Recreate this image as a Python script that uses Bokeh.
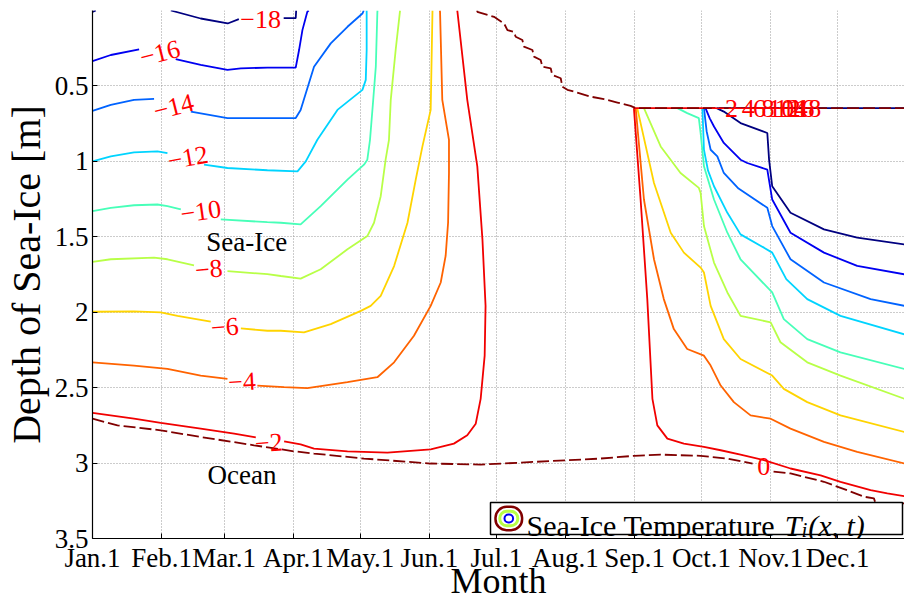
import numpy as np
from bokeh.plotting import figure
from bokeh.models import (Range1d, FixedTicker, NumeralTickFormatter, BoxAnnotation,
                          Label, ColumnDataSource)
from bokeh.core.properties import value
from bokeh.embed import file_html
from bokeh.resources import INLINE

nan = float("nan")

# ---------------- axes ----------------
month_days = [0, 31, 59, 90, 120, 151, 181, 212, 243, 273, 304, 334]
month_labels = ["Jan.1", "Feb.1", "Mar.1", "Apr.1", "May.1", "Jun.1",
                "Jul.1", "Aug.1", "Sep.1", "Oct.1", "Nov.1", "Dec.1"]
depth_ticks = [0.5, 1.0, 1.5, 2.0, 2.5, 3.0, 3.5]

# ---------------- contour lines (day of year, depth in m); nan = break ----------------
t_m18_day = [0, 1.5, nan, 35.1, 48.5, 60.6, 65.6, nan, 85.7, 90.2, 91.1, 91.3, nan,
             279.8, 283.0, 290.5, 302.5, 303.3, 304.7, 312.9, 327.9, 342.8, 364.0, nan, 279.8, 364.0]
t_m18_depth = [0.009, 0.0, nan, 0.0, 0.053, 0.086, 0.057, nan, 0.051, 0.051, 0.051, 0.0, nan,
               0.647, 0.670, 0.746, 0.812, 0.990, 1.165, 1.341, 1.451, 1.506, 1.551, nan, 0.647, 0.647]

t_m16_day = [0, 8.2, 20.9, nan, 37.3, 48.5, 60.5, 66.5, 78.4, 91.1, 92.6, 94.1, 96.3, 96.9, nan,
             274.8, 276.7, 278.6, 283.0, 290.5, 293.5, 302.5, 304.7, 312.9, 327.9, 342.8, 364.0]
t_m16_depth = [0.335, 0.295, 0.258, nan, 0.322, 0.361, 0.394, 0.383, 0.379, 0.379, 0.262, 0.130, 0.009, 0.0, nan,
               0.647, 0.715, 0.769, 0.878, 0.989, 1.011, 1.055, 1.253, 1.473, 1.605, 1.693, 1.749]

t_m14_day = [0, 8.2, 18.6, 27.6, nan, 44.1, 60.5, 78.4, 91.1, 93.3, 99.3, 106.8, 114.3, 121.0, 121.6, nan,
             274.1, 275.3, 277.1, 280.1, 283.0, 289.6, 302.5, 304.7, 312.9, 327.9, 348.8, 364.0]
t_m14_depth = [0.665, 0.625, 0.592, 0.586, nan, 0.670, 0.713, 0.713, 0.713, 0.659, 0.373, 0.218, 0.108, 0.020, 0.0, nan,
               0.647, 0.800, 0.923, 0.967, 1.077, 1.180, 1.308, 1.429, 1.649, 1.803, 1.913, 1.958]

t_m12_day = [0, 8.2, 18.6, 29.1, 33.6, nan, 50.0, 60.5, 78.4, 91.9, 95.6, 100.8, 109.8, 121.0, 122.5, 122.9, 122.9, nan,
             273.4, 274.1, 275.9, 278.6, 284.6, 290.5, 301.0, 304.7, 311.0, 320.4, 335.3, 364.0]
t_m12_depth = [1.000, 0.967, 0.941, 0.934, 0.945, nan, 1.022, 1.044, 1.059, 1.066, 1.000, 0.857, 0.659, 0.526, 0.460, 0.262, 0.0, nan,
               0.647, 0.923, 1.060, 1.165, 1.341, 1.484, 1.572, 1.605, 1.781, 1.913, 2.024, 2.147]

t_m10_day = [0, 8.2, 18.6, 29.1, 33.6, 39.6, nan, 57.5, 78.4, 84.4, 93.3, 102.3, 114.3, 121.7, 123.2, 124.4, 125.8, 127.0, 127.7, 127.8, nan,
             262.2, 266.6, 271.8, 272.6, 274.1, 278.6, 284.6, 290.5, 304.7, 309.9, 320.4, 335.3, 364.0]
t_m10_depth = [1.330, 1.308, 1.291, 1.286, 1.297, 1.319, nan, 1.385, 1.403, 1.407, 1.418, 1.297, 1.121, 1.022, 0.989, 0.857, 0.600, 0.373, 0.009, 0.0, nan,
               0.647, 0.680, 0.713, 0.812, 1.033, 1.253, 1.473, 1.649, 1.869, 2.046, 2.178, 2.266, 2.376]

t_m8_day = [0, 8.2, 27.6, 33.6, 45.5, nan, 60.5, 78.4, 84.4, 93.3, 102.3, 114.3, 123.2, 126.2, 129.2, 131.4, 132.9, 133.7, 135.9, 137.8, 137.9, nan,
            247.2, 254.7, 263.6, 271.8, 272.6, 274.1, 278.6, 284.6, 290.5, 304.0, 308.4, 320.4, 335.3, 364.0]
t_m8_depth = [1.667, 1.649, 1.638, 1.649, 1.689, nan, 1.727, 1.748, 1.760, 1.777, 1.715, 1.583, 1.495, 1.407, 1.231, 0.989, 0.857, 0.592, 0.262, 0.009, 0.0, nan,
              0.647, 0.901, 1.077, 1.176, 1.209, 1.429, 1.671, 1.869, 2.024, 2.067, 2.199, 2.332, 2.420, 2.574]

t_m6_day = [0, 18.6, 30.6, 38.1, 53.0, nan, 66.5, 78.4, 84.4, 94.8, 106.8, 120.3, 124.7, 129.2, 135.2, 141.2, 144.9, 147.9, 151.6, 152.4, 152.4, nan,
            244.2, 251.7, 259.2, 265.1, 272.6, 274.1, 277.1, 283.0, 290.5, 304.7, 309.9, 320.4, 335.3, 364.0]
t_m6_depth = [1.997, 1.995, 2.001, 2.024, 2.063, nan, 2.107, 2.123, 2.123, 2.133, 2.079, 1.991, 1.958, 1.892, 1.694, 1.407, 1.121, 0.901, 0.659, 0.009, 0.0, nan,
              0.647, 1.143, 1.473, 1.605, 1.704, 1.737, 1.958, 2.178, 2.310, 2.420, 2.508, 2.596, 2.684, 2.794]

t_m4_day = [0, 18.6, 33.6, 48.5, 60.5, nan, 73.9, 85.9, 96.3, 114.3, 127.7, 135.2, 144.1, 151.6, 156.1, 158.3, 159.4, 159.8, 159.8, 156.8, 155.8, 155.7, nan,
            243.5, 247.2, 251.7, 256.1, 260.6, 266.6, 274.1, 277.1, 281.6, 287.5, 295.0, 304.0, 312.9, 327.9, 342.8, 364.0]
t_m4_depth = [2.332, 2.354, 2.376, 2.420, 2.442, nan, 2.486, 2.497, 2.503, 2.464, 2.431, 2.332, 2.156, 1.958, 1.803, 1.627, 1.407, 1.077, 0.857, 0.592, 0.009, 0.0, nan,
              0.647, 1.253, 1.649, 1.913, 2.112, 2.244, 2.288, 2.354, 2.486, 2.596, 2.684, 2.706, 2.772, 2.860, 2.926, 3.003]

t_m2_day = [0, 18.6, 30.6, 48.5, 63.5, 73.2, nan,
            85.9, 93.3, 99.3, 114.3, 132.2, 151.6, 162.0, 168.0, 171.8, 174.0, 175.8, 176.2, 174.8, 172.5, 168.0, 163.6, 163.5, nan,
            242.7, 245.7, 248.7, 251.0, 253.2, 257.7, 265.1, 274.1, 281.6, 290.5, 301.0, 312.9, 326.4, 335.3, 348.8, 356.3, 364.0, nan,
            242.7, 279.8]
t_m2_depth = [2.667, 2.706, 2.733, 2.772, 2.805, 2.830, nan,
              2.856, 2.876, 2.904, 2.922, 2.931, 2.909, 2.871, 2.816, 2.739, 2.574, 2.288, 1.958, 1.517, 1.033, 0.592, 0.009, 0.0, nan,
              0.647, 1.253, 1.913, 2.574, 2.750, 2.838, 2.871, 2.893, 2.915, 2.944, 2.981, 3.036, 3.081, 3.124, 3.180, 3.201, 3.220, nan,
              0.647, 0.647]

t_0_day = [0, 11.2, 30.6, 48.5, 72.4, 90.3, 99.3, 121.7, 151.6, 174.0, 191.9, 212.9, 227.8, 242.7, 254.7, 272.6, 284.6, 290.5, 295.9, nan,
           305.3, 312.9, 327.9, 338.3, 345.8, 350.3, 351.0, 362.2, 364.0, nan,
           172.5, 172.5, 180.0, 184.5, 186.0, 188.9, 189.7, 192.7, 193.4, 197.2, 197.9, 200.9, 201.7, 205.4, 206.1, 209.9, 210.6,
           212.9, 217.3, 223.3, 229.3, 235.3, 241.2, 243.5, 364.0]
t_0_depth = [2.706, 2.750, 2.783, 2.827, 2.882, 2.922, 2.937, 2.970, 3.003, 3.010, 2.997, 2.981, 2.970, 2.952, 2.944, 2.952, 2.970, 2.988, 3.003, nan,
             3.056, 3.069, 3.124, 3.180, 3.223, 3.234, 3.267, 3.267, 3.267, nan,
             0.0, 0.009, 0.042, 0.086, 0.130, 0.141, 0.174, 0.196, 0.240, 0.262, 0.306, 0.328, 0.373, 0.383, 0.427, 0.449, 0.505,
             0.526, 0.544, 0.571, 0.588, 0.610, 0.632, 0.647, 0.647]

levels = [-18, -16, -14, -12, -10, -8, -6, -4, -2, 0]
level_colors = ["#000080", "#0000F1", "#0063FF", "#00D4FF", "#47FFB8",
                "#B8FF47", "#FFD400", "#FF6300", "#F10000", "#800000"]
level_days = [t_m18_day, t_m16_day, t_m14_day, t_m12_day, t_m10_day,
              t_m8_day, t_m6_day, t_m4_day, t_m2_day, t_0_day]
level_depths = [t_m18_depth, t_m16_depth, t_m14_depth, t_m12_depth, t_m10_depth,
                t_m8_depth, t_m6_depth, t_m4_depth, t_m2_depth, t_0_depth]

# ---------------- contour labels ----------------
label_text = ["\u221218", "\u221216", "\u221214", "\u221212", "\u221210",
              "\u22128", "\u22126", "\u22124", "\u22122", "0"]
label_day = [75.4, 30.2, 36.4, 42.7, 48.5, 52.1, 59.3, 67.0, 79.0, 300.9]
label_depth = [0.057, 0.282, 0.639, 0.976, 1.332, 1.715, 2.098, 2.462, 2.865, 3.023]
label_angle = [0, 14, 14, 10, 8, 5, 4, 3, 4, 0]

top_label_text = ["\u22122", "\u22124", "\u22126", "\u22128", "\u221210",
                  "\u221212", "\u221214", "\u221216", "\u221218"]
top_label_day = [277.0, 284.5, 289.5, 293.3, 296.3, 299.3, 302.4, 305.4, 308.4]
top_label_depth = [0.650] * 9

FONT = "Liberation Serif"

p = figure(width=904, height=603, x_range=Range1d(0, 364), y_range=Range1d(3.5, 0),
           output_backend="svg", toolbar_location=None,
           min_border_left=92, min_border_right=0, min_border_top=10, min_border_bottom=63)
p.outline_line_color = None
p.background_fill_color = "white"
p.border_fill_color = "white"

# axes
p.xaxis.ticker = FixedTicker(ticks=month_days)
p.xaxis.major_label_overrides = {d: lab for d, lab in zip(month_days, month_labels)}
p.yaxis.ticker = FixedTicker(ticks=depth_ticks)
p.yaxis.formatter = NumeralTickFormatter(format="0.[0]")
for ax in (p.xaxis[0], p.yaxis[0]):
    ax.axis_line_color = "black"
    ax.axis_line_width = 1.2
    ax.major_tick_in = 5
    ax.major_tick_out = 0
    ax.major_tick_line_color = "black"
    ax.minor_tick_line_color = None
    ax.major_label_text_font = FONT
    ax.major_label_text_font_size = "27px"
    ax.major_label_text_color = "black"
    ax.major_label_standoff = 4
    ax.axis_label_text_font = FONT
    ax.axis_label_text_font_style = "normal"
    ax.axis_label_text_color = "black"
p.xaxis.axis_label = "Month"
p.xaxis.axis_label_text_font_size = "36px"
p.xaxis.axis_label_standoff = -15
p.yaxis.axis_label = "Depth of Sea-Ice [m]"
p.yaxis.axis_label_text_font_size = "40px"
p.yaxis.axis_label_standoff = 3

for g in (p.xgrid[0], p.ygrid[0]):
    g.grid_line_color = "#999999"
    g.grid_line_dash = "1 2"
    g.grid_line_width = 1

# contour lines
for lev, col, xs, ys in zip(levels, level_colors, level_days, level_depths):
    p.line(np.array(xs, dtype=float), np.array(ys, dtype=float),
           line_color=col, line_width=1.8,
           line_dash=("12 4" if lev == 0 else "solid"))

# contour labels
lab_src = ColumnDataSource(dict(x=label_day, y=label_depth, text=label_text, angle=label_angle))
p.text(x="x", y="y", text="text", angle="angle", angle_units="deg", source=lab_src,
       text_color="red", text_font=value(FONT), text_font_size=value("26px"),
       text_align="center", text_baseline="middle")
top_src = ColumnDataSource(dict(x=top_label_day, y=top_label_depth, text=top_label_text))
p.text(x="x", y="y", text="text", source=top_src,
       text_color="red", text_font=value(FONT), text_font_size=value("26px"),
       text_align="left", text_baseline="middle")

# region annotations
p.add_layout(Label(x=69.1, y=1.537, text="Sea-Ice", text_font=FONT, text_font_size="27px",
                   text_align="center", text_baseline="middle", text_color="black"))
p.add_layout(Label(x=67.0, y=3.076, text="Ocean", text_font=FONT, text_font_size="27px",
                   text_align="center", text_baseline="middle", text_color="black"))

# legend (screen units relative to the frame: x from left, y from bottom)
scr = dict(left_units="screen", right_units="screen", top_units="screen", bottom_units="screen")
p.add_layout(BoxAnnotation(left=398, right=810, bottom=4, top=36, fill_color="white", fill_alpha=1,
                           line_color="black", line_alpha=1, line_width=1.5, **scr))
cx, cy = 416.3, 20
for hw, hh, col, lw in [(13.3, 11.7, "#800000", 2.5), (9.0, 7.3, "#B8FF47", 3), (4.3, 4.0, "#0000F1", 2)]:
    p.add_layout(BoxAnnotation(left=cx - hw, right=cx + hw, bottom=cy - hh, top=cy + hh,
                               fill_color=None, line_color=col, line_alpha=1, line_width=lw,
                               border_radius=int(min(hw, hh)), **scr))
lab_kw = dict(x_units="screen", y_units="screen", text_font=FONT, text_color="black",
              text_baseline="alphabetic")
p.add_layout(Label(x=434, y=13.3, text="Sea-Ice Temperature", text_font_size="30px", **lab_kw))
p.add_layout(Label(x=692.2, y=13.3, text="T", text_font_size="30px", text_font_style="italic", **lab_kw))
p.add_layout(Label(x=708.9, y=8.3, text="i", text_font_size="21px", text_font_style="italic", **lab_kw))
p.add_layout(Label(x=715.7, y=13.3, text="(x, t)", text_font_size="30px", text_font_style="italic", **lab_kw))

open("out.html", "w").write(file_html(p, INLINE))
